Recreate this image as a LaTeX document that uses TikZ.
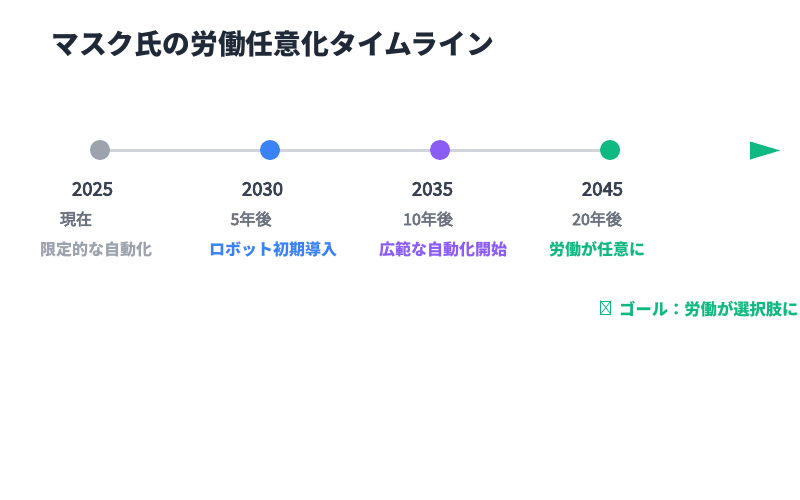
\documentclass[tikz,border=0pt]{standalone}
\usepackage{fontspec}
\usetikzlibrary{backgrounds}
\setmainfont{Noto Sans CJK JP}
\newfontfamily\medfont[RawFeature={embolden=4}]{Noto Sans CJK JP}
\definecolor{titlec}{HTML}{1F2937}
\definecolor{yearc}{HTML}{374151}
\definecolor{subc}{HTML}{6B7280}
\definecolor{linec}{HTML}{D1D5DB}
\definecolor{grayc}{HTML}{9CA3AF}
\definecolor{bluec}{HTML}{3B82F6}
\definecolor{purplec}{HTML}{8B5CF6}
\definecolor{greenc}{HTML}{10B981}
\begin{document}
\begin{tikzpicture}[x=1pt,y=-1pt,
  dot/.style={circle,minimum size=20pt,inner sep=0pt,draw=none},
  yearlbl/.style={font=\medfont\fontsize{18.5}{20}\selectfont,text=yearc,inner sep=0pt},
  sublbl/.style={font=\medfont\fontsize{16}{18}\selectfont,text=subc,inner sep=0pt},
  desclbl/.style={font=\fontsize{16}{18}\selectfont\bfseries,inner sep=0pt}]
\node[anchor=west,inner sep=0pt,font=\fontsize{27.8}{30}\selectfont\bfseries,text=titlec] (title) at (51,44) {マスク氏の労働任意化タイムライン};
\node[dot,fill=grayc] (d1) at (100,150) {};
\node[dot,fill=bluec] (d2) at (270,150) {};
\node[dot,fill=purplec] (d3) at (440,150) {};
\node[dot,fill=greenc] (d4) at (610,150) {};
\begin{scope}[on background layer]
\fill[white] (0,0) rectangle (800,500);
\draw[linec,line width=3pt] (d1.center) -- (d4.center);
\end{scope}
\fill[greenc] (750,141.5) coordinate (a1) -- (780,150.5) coordinate (a2) -- (750,159.5) coordinate (a3) -- cycle;
\node[yearlbl] (y1) at (92.5,189) {2025};
\node[yearlbl] (y2) at (262.5,189) {2030};
\node[yearlbl] (y3) at (432.5,189) {2035};
\node[yearlbl] (y4) at (602.5,189) {2045};
\node[sublbl] (s1) at (76,219) {現在};
\node[sublbl] (s2) at (251,219) {5年後};
\node[sublbl] (s3) at (428,219) {10年後};
\node[sublbl] (s4) at (597,219) {20年後};
\node[desclbl,text=grayc] (t1) at (96,249) {限定的な自動化};
\node[desclbl,text=bluec] (t2) at (273,249) {ロボット初期導入};
\node[desclbl,text=purplec] (t3) at (443,249) {広範な自動化開始};
\node[desclbl,text=greenc] (t4) at (597,249) {労働が任意に};
\node[draw=greenc,line width=0.8pt,minimum width=10pt,minimum height=13pt,inner sep=0pt] (goalbox) at (605.7,307.5) {};
\draw[greenc,line width=0.7pt] (goalbox.north west) -- (goalbox.south east) (goalbox.south west) -- (goalbox.north east);
\node[font=\fontsize{16.3}{18}\selectfont\bfseries,inner sep=0pt,text=greenc,anchor=west] (goal) at (619,309) {ゴール：労働が選択肢に};
\useasboundingbox (0,0) rectangle (800,500);
\end{tikzpicture}
\end{document}
